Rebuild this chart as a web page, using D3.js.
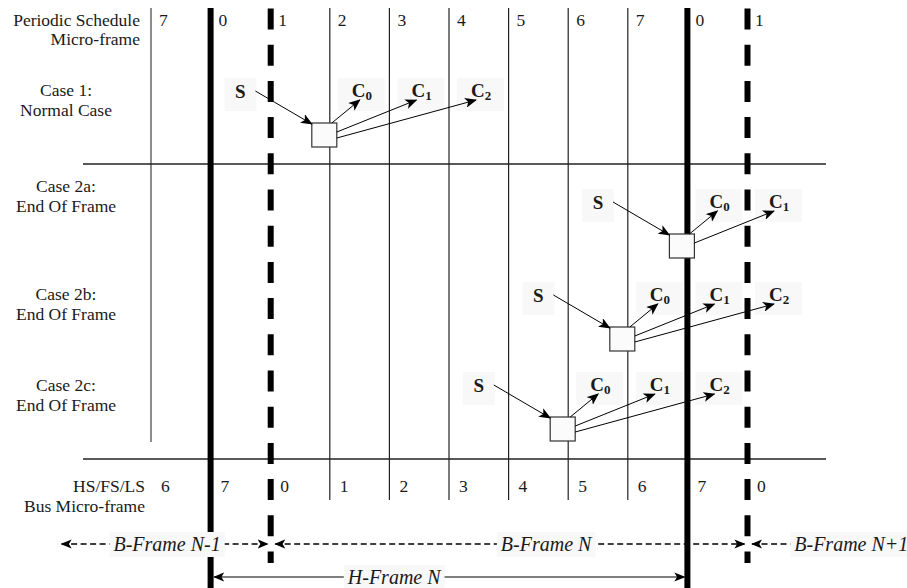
<!DOCTYPE html>
<html>
<head>
<meta charset="utf-8">
<script src="https://cdn.jsdelivr.net/npm/d3@7/dist/d3.min.js"></script>
<style>
  html, body { margin: 0; padding: 0; background: #fff; }
  svg { display: block; }
</style>
</head>
<body>
<svg id="chart" width="907" height="588" font-family="'Liberation Serif', 'DejaVu Serif', 'Times New Roman', Times, serif"></svg>
<script>
// ---------------- data ----------------
const periodicFrames = ["7", "0", "1", "2", "3", "4", "5", "6", "7", "0", "1"];
const busFrames      = ["6", "7", "0", "1", "2", "3", "4", "5", "6", "7", "0"];
// boundary kinds for boundaries 0..10
const boundaryKinds  = ["edge", "hframe", "bframe", "thin", "thin", "thin", "thin", "thin", "thin", "hframe", "bframe"];
const caseTitles     = ["Case 1:", "Case 2a:", "Case 2b:", "Case 2c:"];
const caseSubtitles  = ["Normal Case", "End Of Frame", "End Of Frame", "End Of Frame"];
const splitBoundary  = [3, 9, 8, 7];   // boundary where the start-split lands
const completeSplits = [3, 2, 3, 3];   // number of complete-splits C0..Cn
const bFrameLabels   = ["B-Frame N-1", "B-Frame N", "B-Frame N+1"];
const bFrameStart    = [-1.5, 2, 10];
const bFrameEnd      = [2, 10, 12.6];
const bFrameLabelAt  = [0.27, 6.63, 11.75];
const hFrameLabels   = ["H-Frame N"];
const hFrameStart    = [1];
const hFrameEnd      = [9];
const hFrameLabelAt  = [4.08];

// ---------------- layout ----------------
const svg = d3.select("#chart");
const x = d3.scaleLinear().domain([0, 10]).range([151, 747]);
const boxTop = d3.scaleOrdinal().domain(caseTitles).range([123, 234, 327, 417]);
const titleY = d3.scaleOrdinal().domain(caseTitles).range([96, 192, 300, 391]);

const FS = 17.5;
const ink = "#1a1a1a";
const gridTop = 8, gridBottom = 500, edgeBottom = 442, dashBottom = 563;
const hLineY = [164, 459];
const bY = 544, hY = 577;

const defs = svg.append("defs");
function marker(id, size) {
  defs.append("marker")
    .attr("id", id)
    .attr("viewBox", "0 0 12 10")
    .attr("refX", 11).attr("refY", 5)
    .attr("markerWidth", size).attr("markerHeight", size * 10 / 12)
    .attr("markerUnits", "userSpaceOnUse")
    .attr("orient", "auto-start-reverse")
    .append("path")
    .attr("d", "M0,0 L12,5 L0,10 L3,5 Z")
    .attr("fill", "#000");
}
marker("arr", 12);
marker("arrS", 11);

const bounds = d3.range(11);

// thin grid lines
svg.append("g").selectAll("line")
  .data(bounds.filter(i => boundaryKinds[i] === "thin"))
  .join("line")
  .attr("x1", d => x(d)).attr("x2", d => x(d))
  .attr("y1", gridTop).attr("y2", gridBottom)
  .attr("stroke", "#222").attr("stroke-width", 1.2);

// left edge line
svg.append("g").selectAll("line")
  .data(bounds.filter(i => boundaryKinds[i] === "edge"))
  .join("line")
  .attr("x1", d => x(d)).attr("x2", d => x(d))
  .attr("y1", gridTop).attr("y2", edgeBottom)
  .attr("stroke", "#666").attr("stroke-width", 1.5);

// horizontal separators
svg.append("g").selectAll("line")
  .data(hLineY)
  .join("line")
  .attr("x1", 83).attr("x2", 826)
  .attr("y1", d => d).attr("y2", d => d)
  .attr("stroke", "#222").attr("stroke-width", 1.3);

// H-frame thick lines
svg.append("g").selectAll("line")
  .data(bounds.filter(i => boundaryKinds[i] === "hframe"))
  .join("line")
  .attr("x1", d => x(d)).attr("x2", d => x(d))
  .attr("y1", gridTop).attr("y2", 588)
  .attr("stroke", "#000").attr("stroke-width", 6);

// B-frame dashed thick lines
svg.append("g").selectAll("line")
  .data(bounds.filter(i => boundaryKinds[i] === "bframe"))
  .join("line")
  .attr("x1", d => x(d) + 0.5).attr("x2", d => x(d) + 0.5)
  .attr("y1", gridTop).attr("y2", dashBottom)
  .attr("stroke", "#000").attr("stroke-width", 6)
  .attr("stroke-dasharray", "21,15.2")
  .attr("stroke-dashoffset", -0.5);

// ---------------- bottom frame arrows ----------------
const bg = "#f8f8f8";
const frameG = svg.append("g");
bFrameLabels.forEach((lab, i) => {
  const x1 = bFrameStart[i] < 0 ? x(bFrameStart[i]) : x(bFrameStart[i]) + 5;
  const x2 = bFrameEnd[i] > 10.5 ? x(bFrameEnd[i]) : x(bFrameEnd[i]) - 2.5;
  frameG.append("line")
    .attr("x1", x1).attr("x2", x2).attr("y1", bY).attr("y2", bY)
    .attr("stroke", "#000").attr("stroke-width", 1.4)
    .attr("stroke-dasharray", "6,3.5")
    .attr("marker-start", "url(#arrS)")
    .attr("marker-end", bFrameEnd[i] > 10.5 ? null : "url(#arrS)");
});
hFrameLabels.forEach((lab, i) => {
  frameG.append("line")
    .attr("x1", x(hFrameStart[i]) + 3.5).attr("x2", x(hFrameEnd[i]) - 3)
    .attr("y1", hY).attr("y2", hY)
    .attr("stroke", "#000").attr("stroke-width", 1.1)
    .attr("marker-start", "url(#arrS)")
    .attr("marker-end", "url(#arrS)");
});
function frameLabel(lab, cx, y) {
  const t = frameG.append("text")
    .attr("x", cx).attr("y", y + 7)
    .attr("text-anchor", "middle")
    .attr("fill", ink)
    .style("font-size", "20px").style("font-style", "italic")
    .text(lab);
  const w = t.node().getComputedTextLength();
  frameG.insert("rect", () => t.node())
    .attr("x", cx - w / 2 - 4).attr("y", y - 12)
    .attr("width", w + 8).attr("height", 25)
    .attr("fill", bg);
}
bFrameLabels.forEach((lab, i) => frameLabel(lab, x(bFrameLabelAt[i]), bY));
hFrameLabels.forEach((lab, i) => frameLabel(lab, x(hFrameLabelAt[i]), hY));

// ---------------- header & footer text ----------------
const txt = svg.append("g").style("font-size", FS + "px").attr("fill", ink);
txt.append("text").attr("x", 140).attr("y", 26).attr("text-anchor", "end").text("Periodic Schedule");
txt.append("text").attr("x", 140).attr("y", 45).attr("text-anchor", "end").text("Micro-frame");
txt.append("text").attr("x", 145).attr("y", 492).attr("text-anchor", "end").text("HS/FS/LS");
txt.append("text").attr("x", 145).attr("y", 512).attr("text-anchor", "end").text("Bus Micro-frame");

txt.selectAll(".pf").data(periodicFrames).join("text")
  .attr("class", "pf")
  .attr("x", (d, i) => x(i) + 8).attr("y", 26)
  .text(d => d);
txt.selectAll(".bf").data(busFrames).join("text")
  .attr("class", "bf")
  .attr("x", (d, i) => x(i) + 10).attr("y", 492)
  .text(d => d);

txt.selectAll(".ct").data(caseTitles).join("text")
  .attr("class", "ct")
  .attr("x", 66).attr("y", d => titleY(d))
  .attr("text-anchor", "middle")
  .text(d => d);
txt.selectAll(".cs").data(caseTitles).join("text")
  .attr("class", "cs")
  .attr("x", 66).attr("y", d => titleY(d) + 20)
  .attr("text-anchor", "middle")
  .text((d, i) => caseSubtitles[i]);

// ---------------- split transactions ----------------
const cg = svg.append("g");
caseTitles.forEach((c, j) => {
  const b = splitBoundary[j];
  const L = x(b);
  const top = boxTop(c);
  const base = top - 26;
  const g = cg.append("g");

  // S label
  const sx = x(b - 1.5);
  g.append("rect").attr("x", sx - 16).attr("y", base - 19).attr("width", 32).attr("height", 33).attr("fill", bg);
  g.append("text").attr("x", sx).attr("y", base + 1)
    .attr("text-anchor", "middle").attr("fill", ink)
    .style("font-size", "19px").style("font-weight", "bold")
    .text("S");

  // C labels
  const labels = d3.range(completeSplits[j]).map(k => ({ k, lx: x(b + k) + 22 }));
  labels.forEach(({ k, lx }) => {
    g.append("rect").attr("x", lx - 14).attr("y", base - 19).attr("width", 47).attr("height", 33).attr("fill", bg);
    const t = g.append("text").attr("x", lx).attr("y", base).attr("fill", ink)
      .style("font-size", "19px").style("font-weight", "bold");
    t.append("tspan").text("C");
    t.append("tspan").attr("dy", 3).style("font-size", "13px").text(String(k));
  });

  // box
  g.append("rect")
    .attr("x", L - 18).attr("y", top).attr("width", 25).attr("height", 24)
    .attr("fill", "#fbfbfb").attr("stroke", "#333").attr("stroke-width", 1.2);

  // S arrow
  g.append("line")
    .attr("x1", sx + 15).attr("y1", base - 6)
    .attr("x2", L - 18).attr("y2", top + 1)
    .attr("stroke", "#000").attr("stroke-width", 1)
    .attr("marker-end", "url(#arr)");

  // C arrows
  labels.forEach(({ k, lx }) => {
    const from = k === 0 ? [L + 2, top] : [L + 7, top + (k === 1 ? 9 : 15)];
    const to = k === 0 ? [lx + 8, base + 3] : [lx + 5, base + 3];
    g.append("line")
      .attr("x1", from[0]).attr("y1", from[1])
      .attr("x2", to[0]).attr("y2", to[1])
      .attr("stroke", "#000").attr("stroke-width", 1)
      .attr("marker-end", "url(#arr)");
  });
});
</script>
</body>
</html>
